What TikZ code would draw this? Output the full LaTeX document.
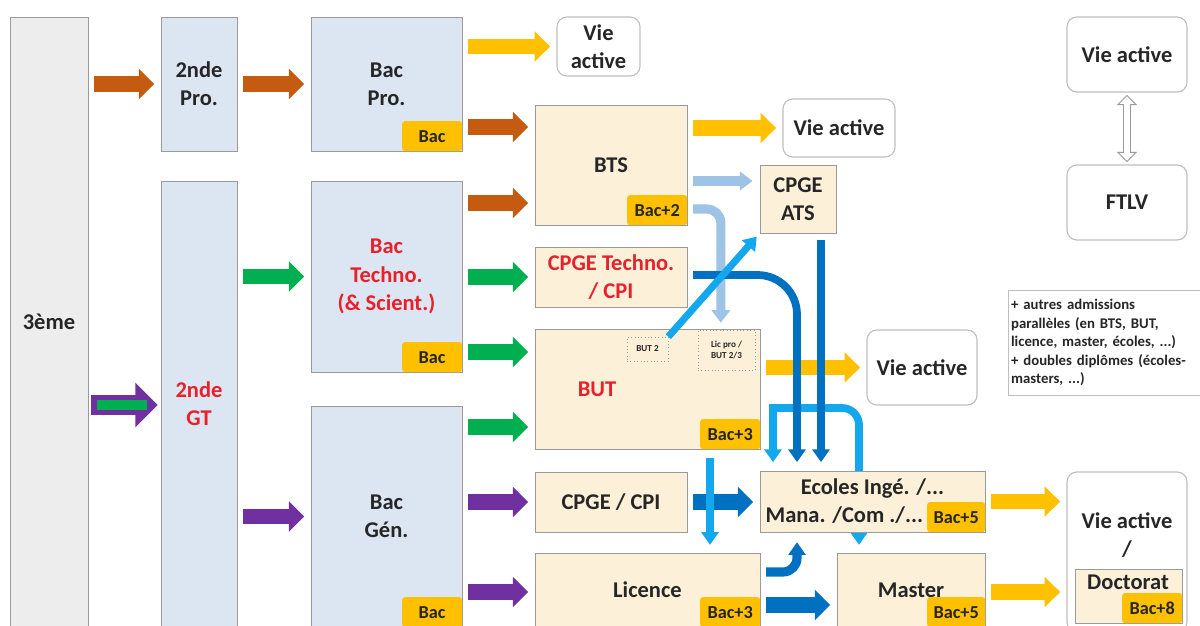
\documentclass[tikz,border=0pt]{standalone}
\usepackage{fontspec}
\setmainfont{Carlito}
\usepackage{tikz}
\usetikzlibrary{arrows.meta,shapes.arrows,backgrounds,calc}
\definecolor{ink}{HTML}{262626}
\definecolor{redtxt}{HTML}{E8202A}
\definecolor{edge}{HTML}{9A9A9A}
\definecolor{wedge}{HTML}{BFBFBF}
\definecolor{graybg}{HTML}{EDEDED}
\definecolor{bluebg}{HTML}{DCE6F2}
\definecolor{creambg}{HTML}{FDF0D8}
\definecolor{gold}{HTML}{FFC000}
\definecolor{rust}{HTML}{C55A11}
\definecolor{leaf}{HTML}{00B050}
\definecolor{plum}{HTML}{7030A0}
\definecolor{deepblue}{HTML}{0070C0}
\definecolor{sky}{HTML}{13A7EE}
\definecolor{steel}{HTML}{9DC3E6}

\begin{document}
\begin{tikzpicture}[x=0.025cm,y=-0.025cm,
  every node/.style={font=\bfseries\fontsize{16}{20}\selectfont, text=ink, align=center, inner sep=0pt},
  gbox/.style={draw=edge, fill=graybg, line width=0.6pt},
  bbox/.style={draw=edge, fill=bluebg, line width=0.6pt},
  obox/.style={draw=edge, fill=creambg, line width=0.6pt},
  wbox/.style={draw=wedge, fill=white, rounded corners=7pt, line width=0.8pt},
  badge/.style={fill=gold, rounded corners=2pt, minimum width=1.5cm, minimum height=0.75cm, anchor=south east, font=\bfseries\fontsize{13}{15}\selectfont},
  tinybox/.style={draw=edge, dotted, fill=creambg, font=\bfseries\fontsize{6.5}{8}\selectfont},
  fat/.style={line width=11pt, -{Triangle[length=11pt,width=21pt]}, shorten <=4pt, shorten >=4.5pt},
  bigfat/.style={line width=14pt, -{Triangle[length=16pt,width=31pt]}, shorten <=1.5pt, shorten >=2pt},
  lane/.style={line width=6.5pt, -{Triangle[length=9pt,width=13pt]}, shorten <=4pt, shorten >=5pt},
  wire/.style={line width=5.5pt, -{Triangle[length=9pt,width=12pt]}, shorten <=4pt, shorten >=6pt}]
\useasboundingbox (0,0) rectangle (1200,625);
\clip (0,0) rectangle (1200,625);

% colonnes lycee
\node (e3) at (49,322) [gbox, minimum width=1.95cm, minimum height=15.25cm] {3ème};
\node (s2pro) at (199,84) [bbox, minimum width=1.9cm, minimum height=3.35cm] {2nde\\Pro.};
\node (s2gt) at (199,404) [bbox, minimum width=1.9cm, minimum height=11.15cm, text=redtxt] {2nde\\GT};
\node (bpro) at (386.5,84) [bbox, minimum width=3.775cm, minimum height=3.35cm] {Bac\\Pro.};
\node (btech) at (386.5,276.5) [bbox, minimum width=3.775cm, minimum height=4.775cm, text=redtxt] {Bac\\Techno.\\(\& Scient.)};
\node (bgen) at (386.5,516.5) [bbox, minimum width=3.775cm, minimum height=5.525cm] {Bac\\Gén.};
\node (kpro) at (bpro.south east) [badge] {Bac};
\node (ktech) at (btech.south east) [badge] {Bac};
\node (kgen) at (bgen.south east) [badge] {Bac};

% post-bac
\node (bts) at (611,165) [obox, minimum width=3.8cm, minimum height=3cm] {BTS};
\node (cpget) at (611,277) [obox, minimum width=3.8cm, minimum height=1.5cm, text=redtxt] {CPGE Techno.\\/ CPI};
\node (but) at (647.5,389) [obox, minimum width=5.625cm, minimum height=3cm] {};
\node (butlbl) at (597,389) [text=redtxt] {BUT};
\node (but2) at (647.5,349) [tinybox, minimum width=1.025cm, minimum height=0.6cm] {BUT 2};
\node (licpro) at (726.5,350) [tinybox, minimum width=1.425cm, minimum height=1cm] {Lic pro /\\BUT 2/3};
\node (cpgecpi) at (611,502) [obox, minimum width=3.8cm, minimum height=1.5cm] {CPGE / CPI};
\node (lic) at (647.5,590) [obox, minimum width=5.625cm, minimum height=1.85cm] {Licence};
\node (ats) at (798,199) [obox, minimum width=1.9cm, minimum height=1.7cm] {CPGE\\ATS};
\node (ecoles) at (872.5,501.5) [obox, minimum width=5.625cm, minimum height=1.525cm] {Ecoles Ingé. /...\\Mana. /Com ./...\rule{40pt}{0pt}};
\node (master) at (911,590) [obox, minimum width=3.7cm, minimum height=1.85cm] {Master};
\node (kbts) at (bts.south east) [badge] {Bac+2};
\node (kbut) at (but.south east) [badge] {Bac+3};
\node (klic) at (lic.south east) [badge] {Bac+3};
\node (kecoles) at (ecoles.south east) [badge, minimum width=1.45cm] {Bac+5};
\node (kmaster) at (master.south east) [badge, minimum width=1.45cm] {Bac+5};

% vie active
\node (va1) at (598.5,46.5) [wbox, minimum width=2.075cm, minimum height=1.475cm] {Vie\\active};
\node (va2) at (839,128) [wbox, minimum width=2.8cm, minimum height=1.45cm] {Vie active};
\node (va3) at (922,367.5) [wbox, minimum width=2.75cm, minimum height=1.875cm] {Vie active};
\node (va4) at (1127,54.5) [wbox, minimum width=3cm, minimum height=1.875cm] {Vie active};
\node (ftlv) at (1127,202.5) [wbox, minimum width=3cm, minimum height=1.875cm] {FTLV};
\node (vadoc) at (1127,552) [wbox, minimum width=3cm, minimum height=4cm] {};
\node (vadoctxt) at (1127,535) {Vie active\\/};
\node (doct) at (1128.5,596) [obox, minimum width=2.675cm, minimum height=1.35cm] {};
\node (doctxt) at (1128,582) {Doctorat};
\node (kdoct) at (doct.south east) [badge] {Bac+8};
\node (swap) at ($(va4.south)!0.5!(ftlv.north)$) [double arrow, draw=edge, fill=white, line width=0.6pt, rotate=90, minimum height=1.65cm, inner sep=2.2pt, double arrow head extend=4pt] {};
\node (note) at (1008,290) [draw=wedge, fill=white, anchor=north west, align=left, inner xsep=2pt, text width=5cm, minimum height=2.625cm, font=\bfseries\fontsize{10.5}{13.2}\selectfont] {+ autres admissions\\parallèles (en BTS, BUT,\\licence, master, écoles, ...)\\+ doubles diplômes (écoles-\\masters, ...)};

% voie pro
\draw[fat, rust] (e3.east |- s2pro) -- (s2pro.west);
\draw[fat, rust] (s2pro.east) -- (bpro.west);
\draw[fat, gold] (bpro.east |- va1) -- (va1.west);
\draw[fat, rust] (bpro.east |- 0,127) -- (bts.west |- 0,127);
\draw[fat, rust] (btech.east |- 0,203) -- (bts.west |- 0,203);

% voie GT
\draw[bigfat, plum] (e3.east |- 0,405) -- (s2gt.west |- 0,405);
\draw[line width=7pt, leaf, shorten <=6pt, shorten >=10pt] (e3.east |- 0,405) -- (s2gt.west |- 0,405);
\draw[fat, leaf] (s2gt.east |- btech) -- (btech.west);
\draw[fat, plum] (s2gt.east |- bgen) -- (bgen.west);
\draw[fat, leaf] (btech.east |- cpget) -- (cpget.west);
\draw[fat, leaf] (btech.east |- 0,352) -- (but.west |- 0,352);
\draw[fat, leaf] (bgen.east |- 0,427) -- (but.west |- 0,427);
\draw[fat, plum] (bgen.east |- cpgecpi) -- (cpgecpi.west);
\draw[fat, plum] (bgen.east |- 0,592) -- (lic.west |- 0,592);

% apres bac
\draw[fat, gold] (bts.east |- va2) -- (va2.west);
\draw[lane, steel] (bts.east |- 0,181) -- (ats.west |- 0,181);
\draw[lane, steel, rounded corners=10pt] (bts.east |- 0,209) -| ([xshift=-4pt]licpro.north);
\draw[fat, gold] (but.east |- va3) -- (va3.west);
\draw[wire, deepblue, rounded corners=28pt] (cpget.east |- 0,275) -| (ecoles.north -| 797,0);
\draw[wire, deepblue, shorten <=5pt] (ats.south -| 821,0) -- (ecoles.north -| 821,0);
\draw[fat, deepblue] (cpgecpi.east) -- (ecoles.west |- cpgecpi);
\draw[fat, deepblue] (lic.east |- 0,605) -- (master.west |- 0,605);
\draw[wire, deepblue, line width=6.5pt, rounded corners=10pt, shorten >=7pt] (lic.east |- 0,572) -| (ecoles.south -| 797,0);
\draw[wire, sky, shorten <=6pt, shorten >=5.5pt] (but.south -| 710,0) -- (lic.north -| 710,0);
\draw[fat, gold] (ecoles.east) -- (vadoc.west |- ecoles);
\draw[fat, gold] (master.east |- 0,592) -- (vadoc.west |- 0,592);

\coordinate (fork) at (773,408);
\begin{scope}[on background layer]
\draw[wire, sky, rounded corners=12pt, shorten <=0pt, shorten >=5.5pt] ([xshift=-2.7pt]fork) -| (master.north -| 859,0);
\draw[wire, sky, shorten <=0pt] (fork) -- (ecoles.north -| fork);
\end{scope}
\draw[wire, sky, line width=5pt, shorten <=0pt, shorten >=3pt] (but2.north east) -- (ats.south west);
\end{tikzpicture}
\end{document}
